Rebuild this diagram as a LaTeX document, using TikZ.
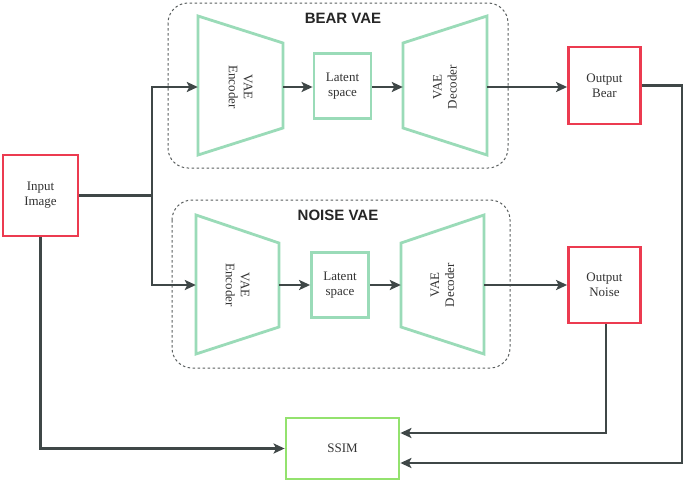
\documentclass[tikz,border=0pt]{standalone}
\usepackage{fontspec}
\setmainfont{Liberation Serif}
\newfontfamily\titlefont{Liberation Sans}
\usetikzlibrary{arrows.meta,calc}
\definecolor{redbox}{HTML}{EC3B50}
\definecolor{mint}{HTML}{9ADBB8}
\definecolor{lime}{HTML}{93E26E}
\definecolor{lineC}{HTML}{3F4747}
\definecolor{dashC}{HTML}{5A5F5F}
\definecolor{txt}{HTML}{333333}
\tikzset{
  redbox/.style={draw=redbox,line width=2.8pt,minimum width=72pt,minimum height=77pt,align=center,font=\fontsize{13}{15}\selectfont,text=txt},
  latbox/.style={draw=mint,line width=2.8pt,minimum width=57pt,minimum height=65pt,align=center,font=\fontsize{13}{15}\selectfont,text=txt},
  trap/.style={draw=mint,line width=2.8pt,line join=miter},
  traptxt/.style={align=center,font=\fontsize{13}{15}\selectfont,text=txt},
  hid/.style={draw=none,inner sep=0pt},
  arr/.style={draw=lineC,line width=2.5pt,-{Stealth[length=11pt,width=10pt,inset=2.5pt]}},
  conn/.style={draw=lineC,line width=2.5pt},
  grp/.style={draw=dashC,line width=1pt,dash pattern=on 2.5pt off 2.5pt,rounded corners=20pt},
  grptitle/.style={font=\titlefont\bfseries\fontsize{15}{17}\selectfont,text=black!85}
}
\begin{document}
\begin{tikzpicture}[x=1pt,y=-1pt]
\useasboundingbox (0,0) rectangle (685,482);
\fill[white] (0,0) rectangle (685,482);

% groups
\draw[grp] (168,3) rectangle (508,168);
\node[grptitle] (t1) at (343,18) {BEAR VAE};
\draw[grp] (172,200) rectangle (510,368);
\node[grptitle] (t2) at (338,215) {NOISE VAE};

% bear VAE
\draw[trap] (198,16) -- (283,43) -- (283,128) -- (198,155) -- cycle;
\node[hid,minimum width=85pt,minimum height=139pt] (enc1) at (240.5,87) {};
\node[traptxt,rotate=-90] (enc1t) at (240.5,87) {VAE\\Encoder};
\node[latbox] (lat1) at (342.5,86) {Latent\\space};
\draw[trap] (403,43) -- (487,16) -- (487,155) -- (403,128) -- cycle;
\node[hid,minimum width=84pt,minimum height=139pt] (dec1) at (445,87) {};
\node[traptxt,rotate=90] (dec1t) at (445,87) {VAE\\Decoder};

% noise VAE
\draw[trap] (196,215) -- (279,243) -- (279,327) -- (196,354) -- cycle;
\node[hid,minimum width=83pt,minimum height=139pt] (enc2) at (237.5,285) {};
\node[traptxt,rotate=-90] (enc2t) at (237.5,285) {VAE\\Encoder};
\node[latbox] (lat2) at (340,285) {Latent\\space};
\draw[trap] (401,243) -- (484,215) -- (484,354) -- (401,327) -- cycle;
\node[hid,minimum width=83pt,minimum height=139pt] (dec2) at (442.5,285) {};
\node[traptxt,rotate=90] (dec2t) at (442.5,285) {VAE\\Decoder};

% boxes
\node[redbox,minimum width=75pt,minimum height=81pt] (in) at (40.5,195.5) {Input\\Image};
\node[redbox] (ob) at (604.5,85.5) {Output\\Bear};
\node[redbox,minimum height=76pt] (on) at (604.5,285) {Output\\Noise};
\node[draw=lime,line width=2.8pt,minimum width=113pt,minimum height=61pt,font=\fontsize{13}{15}\selectfont,text=txt] (ssim) at (342.5,448.5) {SSIM};

% coordinates
\coordinate (split) at (152,195.5);
\coordinate (rb) at (682,463);
\coordinate (rn) at (606,433);

% connectors
\draw[conn] (in.east) -- (split);
\draw[arr] (split) |- (enc1.west);
\draw[arr] (split) |- (enc2.west);
\draw[arr] (enc1.east) -- (lat1.west |- enc1.east);
\draw[arr] (lat1.east |- dec1.west) -- (dec1.west);
\draw[arr] (enc2.east) -- (lat2.west |- enc2.east);
\draw[arr] (lat2.east |- dec2.west) -- (dec2.west);
\draw[arr] (dec1.east) -- (ob.west |- dec1.east);
\draw[arr] (dec2.east) -- (on.west |- dec2.east);
\draw[arr] (ob.east) -| (rb) -- (ssim.east |- rb);
\draw[arr] (on.south -| rn) -- (rn) -- (ssim.east |- rn);
\draw[arr] (in.south) |- (ssim.west);
\end{tikzpicture}
\end{document}
